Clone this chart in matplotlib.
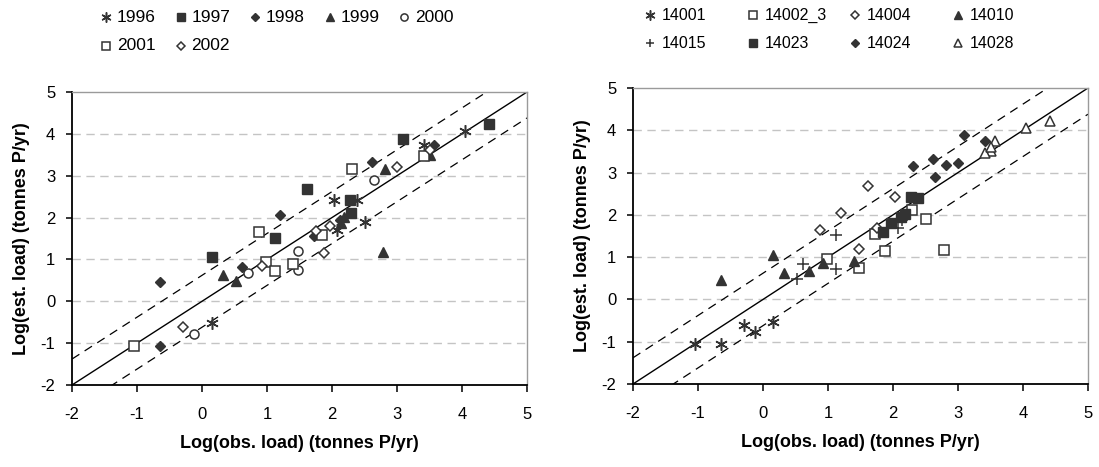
import matplotlib
matplotlib.use("Agg")
import matplotlib.pyplot as plt
from matplotlib.lines import Line2D

plt.rcParams["font.family"] = ["Liberation Sans", "DejaVu Sans"]
plt.rcParams["axes.unicode_minus"] = False

# log10 loads (tonnes P/yr), one entry per site-year
obs_load = [4.05, 4.42, 3.57, 3.51, 3.41, 3.50,
            3.41, 3.09, 2.61, 2.81, 2.65, 2.30, 3.00,
            2.03, 1.62, 1.20, 1.47, 0.88, 1.75,
            2.39, 2.27, 2.12, 2.18, 1.84, 1.97,
            2.51, 2.29, 1.73, 2.78, 1.48, 0.99, 1.87,
            2.08, 1.12, 0.61, 0.52, 1.13, 2.14,
            0.15, -0.64, 0.32, 0.71, 1.40, 0.92,
            0.16, -0.64, -0.12, -1.05, -0.29]
est_load = [4.06, 4.23, 3.74, 3.50, 3.46, 3.61,
            3.74, 3.88, 3.32, 3.17, 2.89, 3.15, 3.22,
            2.42, 2.69, 2.05, 1.19, 1.65, 1.68,
            2.41, 2.43, 1.95, 2.01, 1.59, 1.80,
            1.90, 2.11, 1.55, 1.18, 0.74, 0.95, 1.15,
            1.70, 1.52, 0.83, 0.49, 0.73, 1.88,
            1.06, 0.46, 0.62, 0.68, 0.90, 0.85,
            -0.53, -1.06, -0.78, -1.06, -0.61]
years = ["1996", "1997", "1998", "1999", "2001", "2002",
         "1996", "1997", "1998", "1999", "2000", "2001", "2002",
         "1996", "1997", "1998", "2000", "2001", "2002",
         "1996", "1997", "1998", "1999", "2001", "2002",
         "1996", "1997", "1998", "1999", "2000", "2001", "2002",
         "1996", "1997", "1998", "1999", "2001", "1999",
         "1997", "1998", "1999", "2000", "2001", "2002",
         "1996", "1998", "2000", "2001", "2002"]
sites = ["14028"] * 6 + ["14024"] * 7 + ["14004"] * 6 + ["14023"] * 6 + \
        ["14002_3"] * 7 + ["14015"] * 6 + ["14010"] * 6 + ["14001"] * 5

year_order = ["1996", "1997", "1998", "1999", "2000", "2001", "2002"]
site_order = ["14001", "14002_3", "14004", "14010",
              "14015", "14023", "14024", "14028"]
band = 0.62  # half-width of the dashed envelope around the 1:1 line

INK = "#333333"
asterisk = dict(marker=(6, 2, 0), ms=9, mec=INK, mfc=INK, mew=1.1)
filled_sq = dict(marker="s", ms=6.5, mec=INK, mfc=INK)
filled_dia = dict(marker="D", ms=5.5, mec=INK, mfc=INK)
filled_tri = dict(marker="^", ms=7.5, mec=INK, mfc=INK)
open_circ = dict(marker="o", ms=6.5, mec=INK, mfc="white", mew=1.1)
open_sq = dict(marker="s", ms=6.5, mec=INK, mfc="white", mew=1.1)
open_dia = dict(marker="D", ms=5.5, mec=INK, mfc="white", mew=1.1)
plus = dict(marker="+", ms=8, mec=INK, mew=1.1)
open_tri = dict(marker="^", ms=7.5, mec=INK, mfc="white", mew=1.1)

year_style = {"1996": asterisk, "1997": filled_sq, "1998": filled_dia,
              "1999": filled_tri, "2000": open_circ, "2001": open_sq,
              "2002": open_dia}
site_style = {"14001": asterisk, "14002_3": open_sq, "14004": open_dia,
              "14010": filled_tri, "14015": plus, "14023": filled_sq,
              "14024": filled_dia, "14028": open_tri}

W, H = 1099, 467
fig = plt.figure(figsize=(W / 100, H / 100), dpi=100)
ax_year = fig.add_axes([72 / W, 1 - 385 / H, 455 / W, 293 / H])
ax_site = fig.add_axes([633 / W, 1 - 384 / H, 455 / W, 296 / H])


def draw_panel(ax, keys, order, styles):
    ax.set_xlim(-2, 5)
    ax.set_ylim(-2, 5)
    ticks = list(range(-2, 6))
    ax.set_xticks(ticks)
    ax.set_yticks(ticks)
    for t in ticks[1:-1]:
        ax.axhline(t, color="#c4c4c4", lw=1, ls=(0, (6, 4)), zorder=0)

    ax.plot([-2, 5], [-2, 5], color="black", lw=1, zorder=1)
    for off in (band, -band):
        ax.plot([-2, 5], [-2 + off, 5 + off], color="black", lw=0.9,
                ls=(0, (7, 5)), zorder=1)

    for key in order:
        xs = [x for x, k in zip(obs_load, keys) if k == key]
        ys = [y for y, k in zip(est_load, keys) if k == key]
        ax.plot(xs, ys, linestyle="none", zorder=3, clip_on=False,
                **styles[key])

    for side in ("left", "bottom"):
        ax.spines[side].set_color("black")
        ax.spines[side].set_linewidth(1.3)
    for side in ("top", "right"):
        ax.spines[side].set_color("#9a9a9a")
        ax.spines[side].set_linewidth(1.0)
    ax.tick_params(axis="x", direction="out", length=5, width=1.1,
                   pad=11, labelsize=12)
    ax.tick_params(axis="y", direction="out", length=4, width=1.1,
                   pad=8, labelsize=12)
    ax.set_xlabel("Log(obs. load) (tonnes P/yr)", fontsize=13,
                  fontweight="bold")
    ax.set_ylabel("Log(est. load) (tonnes P/yr)", fontsize=13,
                  fontweight="bold")
    ax.xaxis.set_label_coords(0.5, -0.17)
    ax.yaxis.set_label_coords(-0.093, 0.5)


def legend_grid(labels, styles, x0, y0, dx, dy, ncol, text_off, size):
    for i, lab in enumerate(labels):
        px = x0 + (i % ncol) * dx
        py = y0 + (i // ncol) * dy
        key_style = dict(styles[lab])
        key_style["ms"] = key_style["ms"] * 0.8
        fig.add_artist(Line2D([px / W], [1 - py / H], linestyle="none",
                              transform=fig.transFigure, **key_style))
        fig.text((px + text_off) / W, 1 - py / H, lab, fontsize=size,
                 va="center", ha="left")


draw_panel(ax_year, years, year_order, year_style)
draw_panel(ax_site, sites, site_order, site_style)

legend_grid(year_order, year_style, 106, 17, 74.5, 29, 5, 11, 12.5)
legend_grid(site_order, site_style, 650, 15, 102.5, 28, 4, 12, 11.5)

fig.savefig("out.png", dpi=100)
